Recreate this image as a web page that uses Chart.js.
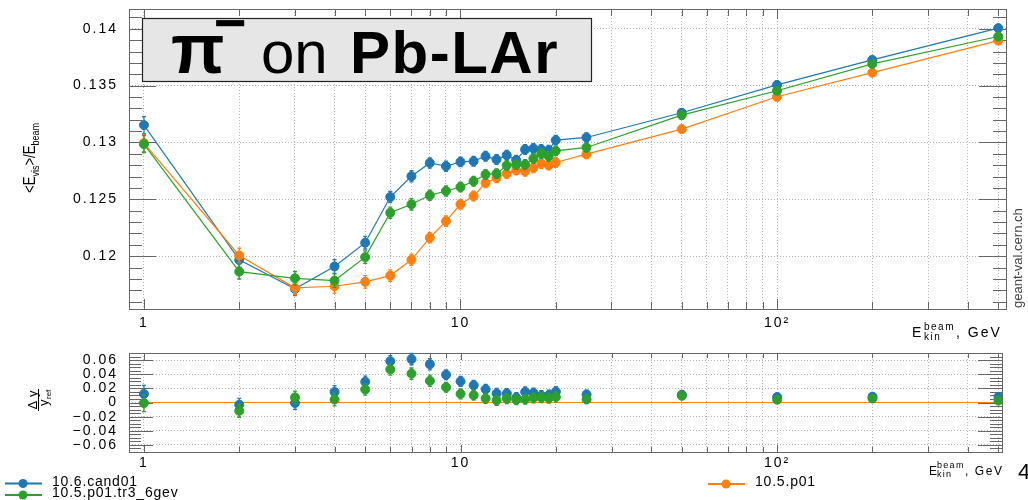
<!DOCTYPE html>
<html>
<head>
<meta charset="utf-8">
<title>pi- on Pb-LAr</title>
<script src="https://cdn.jsdelivr.net/npm/chart.js@4.4.1/dist/chart.umd.min.js"></script>
<style>
  html, body { margin: 0; padding: 0; background: #fff; }
  #wrap { position: relative; width: 1028px; height: 500px; overflow: hidden; }
  #mainChart { position: absolute; left: 0; top: 0; }
  #ratioChart { position: absolute; left: 0; top: 340px; }
</style>
</head>
<body>
<div id="wrap">
  <canvas id="mainChart" width="1028" height="340"></canvas>
  <canvas id="ratioChart" width="1028" height="160"></canvas>
</div>
<script>
// beam kinetic energies, GeV
const energies = [1, 2, 3, 4, 5, 6, 7, 8, 9, 10, 11, 12, 13, 14, 15, 16, 17, 18, 19, 20, 25, 50, 100, 200, 500];

// <E_vis>/E_beam per release
const cand01 = [0.13153, 0.11968, 0.11712, 0.11909, 0.12118, 0.12520, 0.12703, 0.12820, 0.12791, 0.12829,
                0.12835, 0.12879, 0.12850, 0.12888, 0.12844, 0.12938, 0.12947, 0.12938, 0.12932, 0.13020,
                0.13044, 0.13261, 0.13506, 0.13726, 0.14006];
const tr3 = [0.12985, 0.11864, 0.11805, 0.11785, 0.11991, 0.12382, 0.12456, 0.12535, 0.12573, 0.12608,
             0.12659, 0.12718, 0.12726, 0.12797, 0.12806, 0.12806, 0.12859, 0.12903, 0.12879, 0.12926,
             0.12956, 0.13241, 0.13455, 0.13691, 0.13932];
const p01 = [0.12995, 0.12006, 0.11721, 0.11735, 0.11774, 0.11829, 0.11968, 0.12162, 0.12308, 0.12456,
             0.12529, 0.12644, 0.12688, 0.12726, 0.12756, 0.12747, 0.12776, 0.12815, 0.12800, 0.12824,
             0.12897, 0.13117, 0.13402, 0.13614, 0.13896];

// statistical errors (same for all releases), and on the ratio
const errMain = [0.00075, 0.00065, 0.0006, 0.0006, 0.00055, 0.0005, 0.0005, 0.00045, 0.00045, 0.00042,
                 0.00042, 0.00042, 0.00042, 0.00042, 0.00042, 0.00042, 0.00042, 0.00042, 0.00042, 0.00042,
                 0.0004, 0.00035, 0.00035, 0.0003, 0.0003];
const errRatio = [0.012, 0.009, 0.009, 0.009, 0.008, 0.008, 0.008, 0.008, 0.007, 0.007,
                  0.007, 0.007, 0.007, 0.007, 0.007, 0.007, 0.007, 0.007, 0.007, 0.007,
                  0.006, 0.005, 0.005, 0.005, 0.005];

const xTicks = [1, 2, 3, 4, 5, 6, 7, 8, 9, 10, 20, 30, 40, 50, 60, 70, 80, 90, 100, 200, 300, 400, 500];
const xLabelValues = [1, 10, 100];
const xLabelTexts = ['1', '10', '10\u00b2'];
const yTicks = [0.12, 0.125, 0.13, 0.135, 0.14];
const ratioTicks = [-0.06, -0.04, -0.02, 0, 0.02, 0.04, 0.06];

const BLUE = '#1f77b4', ORANGE = '#ff7f0e', GREEN = '#2ca02c';
const FONT = '"Liberation Sans", Arial, sans-serif';

// (y - yref) / yref, reference is 10.5.p01
const relDiff = arr => arr.map((v, i) => v / p01[i] - 1);
const pts = arr => arr.map((v, i) => ({x: energies[i], y: v}));

const xLabel = v => {
  const i = xLabelValues.indexOf(v);
  return i < 0 ? '' : xLabelTexts[i];
};

function txt(ctx, s, x, y, font, o = {}) {
  ctx.font = font;
  ctx.fillStyle = o.color || '#000';
  ctx.textAlign = o.align || 'left';
  ctx.textBaseline = o.baseline || 'alphabetic';
  ctx.letterSpacing = o.spacing || '0px';
  ctx.fillText(s, x, y);
  return ctx.measureText(s).width;
}

// error bars under each dataset's markers
const errorBars = {
  id: 'errorBars',
  beforeDatasetDraw(chart, {index, meta}) {
    const ds = chart.data.datasets[index];
    if (!ds.errors) return;
    const {ctx, scales: {y}} = chart;
    ctx.save();
    ctx.strokeStyle = ds.borderColor;
    ctx.lineWidth = 1.3;
    ctx.beginPath();
    meta.data.forEach((p, i) => {
      const v = ds.data[i].y, e = ds.errors[i];
      const y1 = y.getPixelForValue(v + e), y2 = y.getPixelForValue(v - e);
      ctx.moveTo(p.x, y1); ctx.lineTo(p.x, y2);
      ctx.moveTo(p.x - 2, y1); ctx.lineTo(p.x + 2, y1);
      ctx.moveTo(p.x - 2, y2); ctx.lineTo(p.x + 2, y2);
    });
    ctx.stroke();
    ctx.restore();
  }
};

// frame box with ticks pointing inwards
const frame = {
  id: 'frame',
  beforeDraw(chart) {
    chart.ctx.letterSpacing = '2px';
  },
  beforeDatasetsDraw(chart, args, o) {
    const {ctx, chartArea: a, scales: {x, y}} = chart;
    ctx.save();
    ctx.strokeStyle = '#666';
    ctx.lineWidth = 1;
    ctx.beginPath();
    x.ticks.forEach(t => {
      const px = Math.round(x.getPixelForValue(t.value)) + 0.5;
      const len = xLabelValues.includes(t.value) ? o.xLen[0] : o.xLen[1];
      ctx.moveTo(px, a.bottom); ctx.lineTo(px, a.bottom - len);
      ctx.moveTo(px, a.top); ctx.lineTo(px, a.top + len);
    });
    const per = Math.round(o.yMajor / o.yMinor);
    for (let k = Math.ceil(y.min / o.yMinor); k * o.yMinor <= y.max; k++) {
      const py = Math.round(y.getPixelForValue(k * o.yMinor)) + 0.5;
      const len = k % per === 0 ? o.yLen[0] : o.yLen[1];
      ctx.moveTo(a.left, py); ctx.lineTo(a.left + len, py);
      ctx.moveTo(a.right, py); ctx.lineTo(a.right - len, py);
    }
    ctx.stroke();
    ctx.strokeRect(Math.round(a.left) + 0.5, Math.round(a.top) + 0.5,
                   Math.round(a.right - a.left), Math.round(a.bottom - a.top));
    ctx.restore();
  }
};

const gridStyle = {color: '#b4b4b4', lineWidth: 1, drawTicks: false};
const borderStyle = {display: false, dash: [1, 2]};
const tickFont = {family: FONT, size: 14};

// no extra room for overhanging tick labels, the plot box is fixed
const noPad = s => { s.paddingTop = s.paddingBottom = s.paddingLeft = s.paddingRight = 0; };

function xScale(max, pad, height) {
  return {
    type: 'logarithmic', min: 0.897, max: max,
    afterBuildTicks: s => { s.ticks = xTicks.map(v => ({value: v})); },
    afterFit: s => { s.height = height; noPad(s); },
    grid: gridStyle, border: borderStyle,
    ticks: {autoSkip: false, maxRotation: 0, padding: pad, color: '#000',
            font: tickFont, callback: xLabel}
  };
}

function yScale(min, max, ticks, fmt) {
  return {
    min: min, max: max,
    afterBuildTicks: s => { s.ticks = ticks.map(v => ({value: v})); },
    afterFit: s => { s.width = 129; noPad(s); },
    grid: gridStyle, border: borderStyle,
    ticks: {autoSkip: false, padding: 11, color: '#000', font: tickFont, callback: fmt}
  };
}

const series = (label, data, color, errors, line) => ({
  label, data, errors,
  borderColor: color, backgroundColor: color,
  pointBackgroundColor: color, pointBorderColor: color,
  pointRadius: line ? 0 : 4.5, pointBorderWidth: 1,
  borderWidth: 1.2, showLine: line !== false
});

// main panel texts: title box, axis titles, site tag
const mainTexts = {
  id: 'mainTexts',
  afterDraw(chart) {
    const ctx = chart.ctx;
    ctx.save();
    ctx.fillStyle = '#e6e6e6';
    ctx.fillRect(142, 18, 450, 64);
    ctx.strokeStyle = '#222';
    ctx.lineWidth = 1.2;
    ctx.strokeRect(142.5, 18.5, 449, 63);
    txt(ctx, '\u03c0', 171, 73, 'bold 70px ' + FONT);
    txt(ctx, '\u2212', 214, 42, 'bold 56px ' + FONT);
    txt(ctx, 'on', 261, 73, '60px ' + FONT);
    txt(ctx, 'Pb-LAr', 350, 73, 'bold 60px ' + FONT, {spacing: '1.5px'});

    // <E_vis>/E_beam
    ctx.save();
    ctx.translate(35, 158);
    ctx.rotate(-Math.PI / 2);
    ctx.scale(0.82, 1);
    ctx.letterSpacing = '0px';
    const big = '16px ' + FONT, small = '11px ' + FONT;
    ctx.font = big; const w1 = ctx.measureText('<E').width, w3 = ctx.measureText('>/E').width;
    ctx.font = small; const w2 = ctx.measureText('vis').width, w4 = ctx.measureText('beam').width;
    let x0 = -(w1 + w2 + w3 + w4) / 2;
    x0 += txt(ctx, '<E', x0, 0, big);
    x0 += txt(ctx, 'vis', x0, 4, small);
    x0 += txt(ctx, '>/E', x0, 0, big);
    txt(ctx, 'beam', x0, 4, small);
    ctx.restore();

    // E_kin^beam, GeV
    txt(ctx, 'E', 912, 337, '14px ' + FONT);
    txt(ctx, 'beam', 924, 330, '10px ' + FONT, {spacing: '1.5px'});
    txt(ctx, 'kin', 924, 340, '10px ' + FONT, {spacing: '1.5px'});
    txt(ctx, ', GeV', 956, 337, '14px ' + FONT, {spacing: '2px'});

    ctx.save();
    ctx.translate(1021.5, 308);
    ctx.rotate(-Math.PI / 2);
    txt(ctx, 'geant-val.cern.ch', 0, 0, '13px ' + FONT, {color: '#444'});
    ctx.restore();
    ctx.restore();
  }
};

// ratio panel texts: axis titles and legend
const ratioTexts = {
  id: 'ratioTexts',
  afterDraw(chart) {
    const ctx = chart.ctx;
    ctx.save();
    // dy / y_ref
    ctx.save();
    ctx.translate(38.5, 60);
    ctx.rotate(-Math.PI / 2);
    txt(ctx, '\u0394 y', 0, -2, '13px ' + FONT, {align: 'center'});
    ctx.strokeStyle = '#000';
    ctx.lineWidth = 1;
    ctx.beginPath(); ctx.moveTo(-11, 0); ctx.lineTo(11, 0); ctx.stroke();
    txt(ctx, 'y', -6, 9, '13px ' + FONT);
    txt(ctx, 'ref', 1, 12, '8px ' + FONT);
    ctx.restore();

    txt(ctx, 'E', 929, 135, '12px ' + FONT);
    txt(ctx, 'beam', 937, 128, '9px ' + FONT, {spacing: '1.3px'});
    txt(ctx, 'kin', 937, 137, '9px ' + FONT, {spacing: '1.3px'});
    txt(ctx, ', GeV', 965, 135, '12px ' + FONT, {spacing: '1.6px'});
    txt(ctx, '4', 1018, 139, '22px ' + FONT);

    const entry = (x, y, color, label) => {
      ctx.strokeStyle = color;
      ctx.lineWidth = 2;
      ctx.beginPath(); ctx.moveTo(x, y); ctx.lineTo(x + 37, y); ctx.stroke();
      ctx.fillStyle = color;
      ctx.beginPath(); ctx.arc(x + 18, y, 4.5, 0, Math.PI * 2); ctx.fill();
      txt(ctx, label, x + 47, y - 1.5, '14px ' + FONT, {baseline: 'middle', spacing: '0.8px'});
    };
    entry(5, 143.5, BLUE, '10.6.cand01');
    entry(5, 155, GREEN, '10.5.p01.tr3_6gev');
    entry(708, 144, ORANGE, '10.5.p01');
    ctx.restore();
  }
};

new Chart(document.getElementById('mainChart'), {
  type: 'scatter',
  data: {
    datasets: [
      series('10.5.p01.tr3_6gev', pts(tr3), GREEN, errMain),
      series('10.5.p01', pts(p01), ORANGE, errMain),
      series('10.6.cand01', pts(cand01), BLUE, errMain)
    ]
  },
  options: {
    responsive: false, animation: false,
    layout: {autoPadding: false, padding: {left: 0, right: 22, top: 9, bottom: 0}},
    scales: {
      x: xScale(529, 6, 31),
      y: yScale(0.11535, 0.14174, yTicks, v => String(+v.toFixed(3)))
    },
    plugins: {
      legend: {display: false}, tooltip: {enabled: false},
      frame: {xLen: [10, 7], yLen: [27, 13], yMajor: 0.005, yMinor: 0.001}
    }
  },
  plugins: [frame, errorBars, mainTexts]
});

new Chart(document.getElementById('ratioChart'), {
  type: 'scatter',
  data: {
    datasets: [
      series('10.5.p01.tr3_6gev', pts(relDiff(tr3)), GREEN, errRatio, false),
      series('10.6.cand01', pts(relDiff(cand01)), BLUE, errRatio, false),
      series('10.5.p01', pts(relDiff(p01)), ORANGE, null, true)
    ]
  },
  options: {
    responsive: false, animation: false,
    layout: {autoPadding: false, padding: {left: 0, right: 26, top: 13, bottom: 0}},
    scales: {
      x: xScale(513, 3, 48),
      y: yScale(-0.07, 0.07, ratioTicks,
                v => Math.abs(v) < 1e-9 ? '0' : (v < 0 ? '\u2212' : '') + Math.abs(v).toFixed(2))
    },
    plugins: {
      legend: {display: false}, tooltip: {enabled: false},
      frame: {xLen: [7, 5], yLen: [24, 12], yMajor: 0.02, yMinor: 0.005}
    }
  },
  plugins: [frame, errorBars, ratioTexts]
});
</script>
</body>
</html>
